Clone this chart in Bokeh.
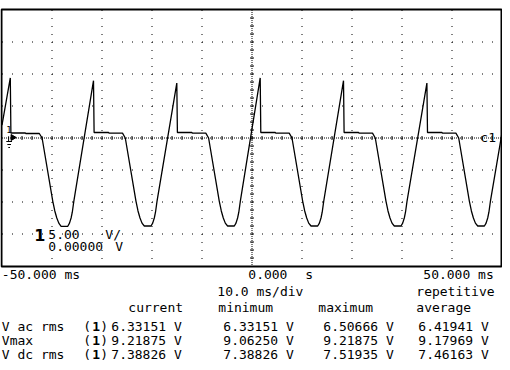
import numpy as np
from bokeh.plotting import figure
from bokeh.models import Range1d
from bokeh.embed import file_html
from bokeh.resources import INLINE
from bokeh.core.properties import value

# ---------------- data ----------------
# waveform: time in ms, voltage in V
trace_t = [
    -50.00,
    -48.34, -48.22, -45.34, -45.24, -42.54, -41.98, -39.84, -39.44, -39.04, -38.64, -38.18, -36.84, -36.50, -36.18, -35.94, -35.64,
    -31.70, -31.58, -28.70, -28.60, -25.90, -25.34, -23.20, -22.80, -22.40, -22.00, -21.54, -20.20, -19.86, -19.54, -19.30, -19.00,
    -15.04, -14.92, -12.04, -11.94, -9.24, -8.68, -6.54, -6.14, -5.74, -5.34, -4.88, -3.54, -3.20, -2.88, -2.64, -2.34,
    1.64, 1.76, 4.64, 4.74, 7.44, 8.00, 10.14, 10.54, 10.94, 11.34, 11.80, 13.14, 13.48, 13.80, 14.04, 14.34,
    18.30, 18.42, 21.30, 21.40, 24.10, 24.66, 26.80, 27.20, 27.60, 28.00, 28.46, 29.80, 30.14, 30.46, 30.70, 31.00,
    34.98, 35.10, 37.98, 38.08, 40.78, 41.34, 43.48, 43.88, 44.28, 44.68, 45.14, 46.48, 46.82, 47.14, 47.38, 47.68,
    50.00,
]
trace_v = [
    2.0,
    9.38, 0.78, 0.78, 0.70, 0.70, 0.0, -9.9, -11.4, -12.5, -13.3, -13.8, -13.8, -13.3, -12.5, -11.6, -9.9,
    8.95, 0.86, 0.86, 0.75, 0.75, 0.0, -9.9, -11.4, -12.5, -13.3, -13.75, -13.75, -13.3, -12.5, -11.6, -9.9,
    8.59, 0.86, 0.86, 0.75, 0.75, 0.0, -9.9, -11.4, -12.5, -13.3, -13.75, -13.75, -13.3, -12.5, -11.6, -9.9,
    9.38, 0.86, 0.86, 0.75, 0.75, 0.0, -9.9, -11.4, -12.5, -13.3, -13.75, -13.75, -13.3, -12.5, -11.6, -9.9,
    8.95, 0.86, 0.86, 0.75, 0.75, 0.0, -9.9, -11.4, -12.5, -13.3, -13.75, -13.75, -13.3, -12.5, -11.6, -9.9,
    8.59, 0.86, 0.86, 0.75, 0.75, 0.0, -9.9, -11.4, -12.5, -13.3, -13.75, -13.75, -13.3, -12.5, -11.6, -9.9,
    0.8,
]

time_left_label = "-50.000 ms"
time_center_label = "0.000"
time_center_unit = "s"
time_right_label = "50.000 ms"
timebase_label = "10.0 ms/div"
mode_label = "repetitive"
stat_headers = ["current", "minimum", "maximum", "average"]
measure_names = ["V ac rms", "Vmax", "V dc rms"]
current_vals = ["6.33151", "9.21875", "7.38826"]
minimum_vals = ["6.33151", "9.06250", "7.38826"]
maximum_vals = ["6.50666", "9.21875", "7.51935"]
average_vals = ["6.41941", "9.17969", "7.46163"]
channel = "1"
volts_per_div = "5.00"
offset_volts = "0.00000"
unit = "V"

# ---------------- layout ----------------
W, H = 502, 362
MS_PER_PX = 10.0 / 50.0
V_PER_PX = 5.0 / 32.0
TEXT_DY = -4.5  # compensation for rendered baseline offset


def tx(xr):  # reference pixel x -> time (ms)
    return -50.0 + (xr - 6.7) * MS_PER_PX


def vy(yr):  # reference pixel y -> volts
    return (140.0 - yr) * V_PER_PX


def ty(yr):  # reference text baseline -> volts
    return vy(yr + TEXT_DY)


p = figure(width=W, height=H, output_backend="svg", toolbar_location=None,
           x_range=Range1d(tx(5.2), tx(5.2) + W * MS_PER_PX),
           y_range=Range1d(vy(364.5), vy(2.5)),
           x_axis_location=None, y_axis_location=None,
           min_border=0, outline_line_color=None)
p.grid.visible = False
p.background_fill_color = "white"
p.border_fill_color = "white"

ink = "black"

# grid
for t in [-40, -30, -20, -10, 10, 20, 30, 40]:
    p.line([t, t], [20, -20], line_color=ink, line_width=1, line_dash="1 7")
for v in [-15, -10, -5, 5, 10, 15]:
    p.line([-50, 50], [v, v], line_color=ink, line_width=1, line_dash="1 9")
p.line([0, 0], [20, -20], line_color=ink, line_width=1, line_dash="1 1")
p.line([-50, 50], [0, 0], line_color=ink, line_width=1, line_dash="1 1")
# minor ticks on centre axes
ht = np.arange(-48, 50, 2.0)
p.segment(x0=ht, y0=-2 * V_PER_PX, x1=ht, y1=2 * V_PER_PX, line_color=ink, line_width=1)
vt = np.arange(-18.75, 20, 1.25)
p.segment(x0=-2 * MS_PER_PX, y0=vt, x1=2 * MS_PER_PX, y1=vt, line_color=ink, line_width=1)

# border
p.quad(left=tx(6.2), right=tx(506.2), bottom=vy(268.5), top=vy(11.5),
       fill_color=None, line_color=ink, line_width=2)

# waveform
p.line(trace_t, trace_v, line_color=ink, line_width=1.3)

# ground marker / channel marker / c1
p.scatter([tx(17.5)], [vy(139.5)], marker="triangle", angle=-np.pi / 2, size=6,
          fill_color=ink, line_color=ink)
p.segment(x0=[tx(13.3), tx(11), tx(12), tx(13)], y0=[vy(138.3), vy(143.5), vy(146.5), vy(149.5)],
          x1=[tx(13.3), tx(16.7), tx(15.7), tx(14.7)], y1=[vy(143.5), vy(143.5), vy(146.5), vy(149.5)],
          line_color=ink, line_width=1)
mono = value("DejaVu Sans Mono")
FS = "13px"
p.text([tx(11)], [ty(135.5)], text=[channel], text_font=mono, text_font_size="9px",
       text_color=ink, text_baseline="alphabetic")
p.text([tx(485)], [ty(144)], text=["c" + channel], text_font=mono, text_font_size=FS,
       text_color=ink, text_baseline="alphabetic")

# scale readout in the screen
p.text([tx(39)], [ty(241.5)], text=[channel], text_font=value("DejaVu Sans"), text_font_size="16px",
       text_font_style="bold", text_color=ink, text_baseline="alphabetic")
p.text([tx(53), tx(110), tx(53), tx(120)], [ty(240.5), ty(240.5), ty(253), ty(253)],
       text=[volts_per_div, unit + "/", offset_volts, unit], text_font=mono, text_font_size=FS,
       text_color=ink, text_baseline="alphabetic")

# text below the screen
tok_text, tok_x, tok_y = [], [], []


def put(s, xr, yr):
    tok_text.append(s)
    tok_x.append(tx(xr))
    tok_y.append(ty(yr))


put(time_left_label, 6.5, 280.5)
put(time_center_label, 253, 280.5)
put(time_center_unit, 310, 280.5)
put(time_right_label, 428, 280.5)
put(timebase_label, 222, 297.5)
put(mode_label, 421, 297.5)
for h, xr in zip(stat_headers, [133, 223, 323, 421]):
    put(h, xr, 314)
row_y = [332.5, 347, 360.5]
for i in range(3):
    y = row_y[i]
    put(measure_names[i], 6.5, y)
    put("(", 88, y)
    put(")", 105, y)
    put(current_vals[i] + " " + unit, 116, y)
    put(minimum_vals[i] + " " + unit, 228, y)
    put(maximum_vals[i] + " " + unit, 328, y)
    put(average_vals[i] + " " + unit, 423, y)

p.text(tok_x, tok_y, text=tok_text, text_font=mono, text_font_size=FS,
       text_color=ink, text_baseline="alphabetic")
p.text([tx(97)] * 3, [ty(y) for y in row_y], text=[channel] * 3, text_font=mono,
       text_font_size=FS, text_font_style="bold", text_color=ink, text_baseline="alphabetic")

open("out.html", "w").write(file_html(p, INLINE))
